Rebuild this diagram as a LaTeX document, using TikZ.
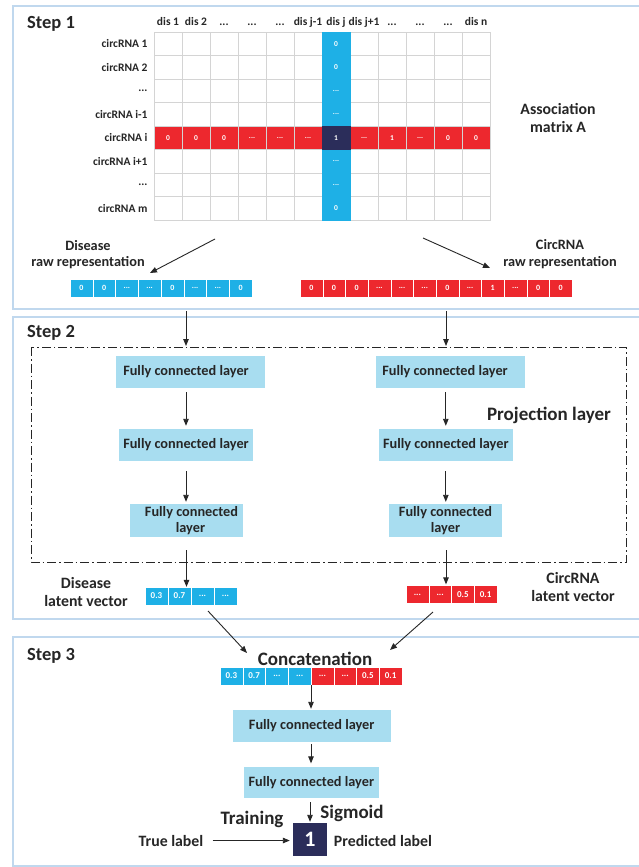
\documentclass[tikz,border=0pt]{standalone}
\usepackage{fontspec}
\setmainfont{Carlito}
\usetikzlibrary{arrows.meta}
\definecolor{txt}{RGB}{38,38,38}
\definecolor{cred}{RGB}{237,40,46}
\definecolor{cblue}{RGB}{30,176,230}
\definecolor{cnavy}{RGB}{43,45,90}
\definecolor{fcfill}{RGB}{168,221,240}
\definecolor{panel}{RGB}{192,216,238}
\definecolor{gridc}{RGB}{212,212,212}
\newcommand{\mydots}{...}
\begin{document}
\begin{tikzpicture}[x=1pt,y=-1pt,
 every node/.style={text=txt, inner sep=0pt},
 steplab/.style={font=\fontsize{18.5}{22}\selectfont\bfseries, anchor=base west},
 small/.style={font=\fontsize{11.5}{14}\selectfont\bfseries},
 mid/.style={font=\fontsize{14.3}{16.5}\selectfont\bfseries, align=center},
 lab/.style={font=\fontsize{15.8}{18.5}\selectfont\bfseries, align=center},
 big/.style={font=\fontsize{19}{22}\selectfont\bfseries},
 fc/.style={fill=fcfill, font=\fontsize{14.3}{16.5}\selectfont\bfseries, align=center},
 mcell/.style={minimum width=28pt, minimum height=23.5pt, draw=gridc, line width=0.6pt},
 mval/.style={text=white, font=\fontsize{7.5}{9}\selectfont\bfseries},
 vcell/.style={minimum height=18pt, draw=white, line width=0.3pt, text=white, font=\fontsize{8}{9}\selectfont\bfseries},
 lcell/.style={vcell, font=\fontsize{9}{10}\selectfont\bfseries},
 arr/.style={-{Triangle[length=7pt,width=5.5pt]}, line width=0.9pt, draw=txt},
 panelbox/.style={draw=panel, line width=1.6pt},
 frame/.style={draw=txt, line width=0.8pt, dash pattern=on 9pt off 3pt on 1.5pt off 3pt},
]
\useasboundingbox[fill=white] (0,0) rectangle (639,867);

% panels
\draw[panelbox] (13,6) rectangle (650,309);
\draw[panelbox] (13,317) rectangle (650,619);
\draw[panelbox] (13,637) rectangle (650,866);

\node[steplab] (s1) at (27,28.5) {Step 1};
\node[steplab] (s2) at (27,337.5) {Step 2};
\node[steplab] (s3) at (27,660) {Step 3};

% ---------- Step 1: association matrix ----------
\foreach \r in {1,...,8}{
  \foreach \c in {1,...,12}{
    \node[mcell] (m\r-\c) at ({154+28*(\c-0.5)},{32+23.5*(\r-0.5)}) {};
  }
}
\foreach \c/\v in {1/0,2/0,3/0,4/\mydots,5/\mydots,6/\mydots,8/\mydots,9/1,10/\mydots,11/0,12/0}{
  \node[mcell, fill=cred, mval] (rr\c) at (m5-\c) {\v};
}
\foreach \r/\v in {1/0,2/0,3/\mydots,4/\mydots,6/\mydots,7/\mydots,8/0}{
  \node[mcell, fill=cblue, draw=cblue, mval] (cc\r) at (m\r-7) {\v};
}
\node[mcell, fill=cnavy, draw=cnavy, mval] (hit) at (m5-7) {1};

\foreach \r/\t in {1/circRNA 1,2/circRNA 2,3/\mydots,4/circRNA i-1,5/circRNA i,6/circRNA i+1,7/\mydots,8/circRNA m}{
  \node[small, anchor=east] (rl\r) at ([xshift=-6pt]m\r-1.west) {\t};
}
\foreach \c/\t in {1/dis 1,2/dis 2,3/\mydots,4/\mydots,5/\mydots,6/dis j-1,7/dis j,8/dis j+1,9/\mydots,10/\mydots,11/\mydots,12/dis n}{
  \node[small, anchor=base] (h\c) at ({154+28*(\c-0.5)},26) {\t};
}

\node[lab] (assoc) at (558,118) {Association\\matrix A};

% raw representations
\node[mid] (dlab) at (88,254.5) {Disease\\raw representation};
\node[mid] (clab) at (560,254) {CircRNA\\raw representation};

\foreach \i/\v in {1/0,2/0,3/\mydots,4/\mydots,5/0,6/\mydots,7/\mydots,8/0}{
  \node[vcell, fill=cblue, minimum width=22.75pt] (dv\i) at ({70+22.75*(\i-0.5)},288) {\v};
}
\foreach \i/\v in {1/0,2/0,3/0,4/\mydots,5/\mydots,6/\mydots,7/0,8/\mydots,9/1,10/\mydots,11/0,12/0}{
  \node[vcell, fill=cred, minimum width=22.67pt] (cv\i) at ({300+22.67*(\i-0.5)},288) {\v};
}

\coordinate (da) at (215,239);
\coordinate (db) at (150,273);
\draw[arr] (da) -- (db);
\coordinate (ca) at (423,238);
\coordinate (cb) at (490,268);
\draw[arr] (ca) -- (cb);

% ---------- Step 2 ----------
\draw[frame] (31,347) rectangle (626,562);
\node[big] (proj) at (549,415) {Projection layer};

\node[fc, minimum width=149pt, minimum height=32pt] (L1) at (190.5,372) {Fully connected layer\hspace{9pt}};
\node[fc, minimum width=134pt, minimum height=32pt] (L2) at (186,445) {Fully connected layer};
\node[fc, minimum width=113pt, minimum height=33pt] (L3) at (186.5,520.5) {\hspace{10pt}Fully connected\\\hspace{8pt}layer};
\node[fc, minimum width=149pt, minimum height=32pt] (R1) at (450.5,372) {Fully connected layer\hspace{11pt}};
\node[fc, minimum width=134pt, minimum height=32pt] (R2) at (445.8,445) {Fully connected layer};
\node[fc, minimum width=113pt, minimum height=33pt] (R3) at (445.5,520.5) {Fully connected\\layer};

\coordinate (t1) at (186,311);
\coordinate (f1) at (186,346);
\draw[arr] (t1) -- (f1);
\coordinate (t2) at (446,311);
\coordinate (f2) at (446,346);
\draw[arr] (t2) -- (f2);

\draw[arr, shorten <=4pt, shorten >=3pt] (L1.south -| L2.center) -- (L2.north);
\draw[arr, shorten <=10pt, shorten >=2pt] (L2.south) -- (L3.north -| L2.center);
\draw[arr, shorten <=4pt, shorten >=3pt] (R1.south -| R2.center) -- (R2.north);
\draw[arr, shorten <=10pt, shorten >=2pt] (R2.south) -- (R3.north -| R2.center);

% latent vectors
\foreach \i/\v in {1/0.3,2/0.7,3/\mydots,4/\mydots}{
  \node[lcell, fill=cblue, minimum width=23pt] (dl\i) at ({145+23*(\i-0.5)},596) {\v};
}
\foreach \i/\v in {1/\mydots,2/\mydots,3/0.5,4/0.1}{
  \node[lcell, fill=cred, minimum width=22.75pt] (cl\i) at ({406+22.75*(\i-0.5)},594.5) {\v};
}
\node[lab] (dlat) at (86,592) {Disease\\latent vector};
\node[lab] (clat) at (573,587) {CircRNA\\latent vector};

\draw[arr, shorten <=13pt] (L3.south) -- (L3.south |- dl2.north);
\draw[arr, shorten <=13pt, shorten >=1pt] (R3.south -| 446,0) -- (cl2.north -| 446,0);

% ---------- Step 3 ----------
\node[big, anchor=base] (concat) at (315,665) {Concatenation};
\foreach \i/\v in {1/0.3,2/0.7,3/\mydots,4/\mydots}{
  \node[lcell, fill=cblue, minimum width=22.75pt] (k\i) at ({220+22.75*(\i-0.5)},676) {\v};
}
\foreach \i/\v in {5/\mydots,6/\mydots,7/0.5,8/0.1}{
  \node[lcell, fill=cred, minimum width=22.75pt] (k\i) at ({220+22.75*(\i-0.5)},676) {\v};
}

\coordinate (la) at (208,611);
\coordinate (lb) at (247,653);
\draw[arr] (la) -- (lb);
\coordinate (ra) at (433,612);
\coordinate (rb) at (390,650);
\draw[arr] (ra) -- (rb);

\node[fc, minimum width=158pt, minimum height=32pt] (S1) at (311.7,726) {Fully connected layer};
\node[fc, minimum width=134.7pt, minimum height=31.5pt] (S2) at (311.3,782.3) {Fully connected layer};
\coordinate (kj) at (311,685);
\draw[arr, shorten >=1pt] (kj) -- (S1.north -| kj);
\draw[arr, shorten <=2pt, shorten >=3pt] (S1.south -| kj) -- (S2.north -| kj);

\node[fill=cnavy, minimum width=34pt, minimum height=33pt, text=white, font=\fontsize{22}{24}\selectfont\bfseries] (out) at (310,839.5) {1};
\draw[arr, shorten <=4pt, shorten >=1pt] (S2.south -| out.north) -- (out.north);

\node[big, anchor=base] (sig) at (352,818) {Sigmoid};
\node[big, anchor=base] (trn) at (252,824) {Training};
\node[lab, anchor=base] (tl) at (171,846) {True label};
\node[lab, anchor=base] (pl) at (383,846) {Predicted label};
\draw[arr, shorten <=9pt, shorten >=3pt] (tl.east) -- (tl.east -| out.west);
\end{tikzpicture}
\end{document}
